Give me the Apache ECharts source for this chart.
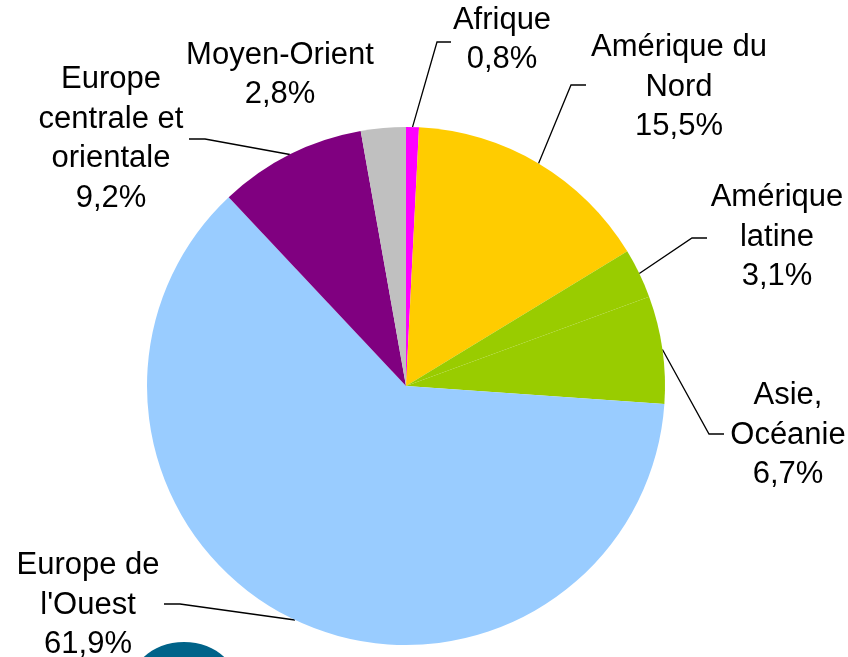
<!DOCTYPE html>
<html>
<head>
<meta charset="utf-8">
<script src="https://cdn.jsdelivr.net/npm/echarts@6/dist/echarts.min.js"></script>
<style>
html,body{margin:0;padding:0;background:#fff;}
#chart{width:848px;height:657px;}
</style>
</head>
<body>
<div id="chart"></div>
<script>
var categories = ["Afrique", "Amérique du Nord", "Amérique latine", "Asie, Océanie", "Europe de l'Ouest", "Europe centrale et orientale", "Moyen-Orient"];
var labelTexts = ["Afrique", "Amérique du\nNord", "Amérique\nlatine", "Asie,\nOcéanie", "Europe de\nl'Ouest", "Europe\ncentrale et\norientale", "Moyen-Orient"];
var values = [0.8, 15.5, 3.1, 6.7, 61.9, 9.2, 2.8];
var colors = ["#ff00ff", "#ffcc00", "#99cc00", "#99cc00", "#99ccff", "#800080", "#c0c0c0"];

// label anchor (centre of text block) and leader-line elbow / end
var labelPos = [
  {x: 502, y: 40, elbow: [437, 42], end: [451, 42]},
  {x: 679, y: 87, elbow: [571, 85], end: [586, 85]},
  {x: 777, y: 237, elbow: [692, 238], end: [707, 238]},
  {x: 788, y: 435, elbow: [709, 434], end: [724, 434]},
  {x: 88, y: 605, elbow: [180, 604], end: [164, 604]},
  {x: 111, y: 139, elbow: [205, 139], end: [189, 139]},
  {x: 280, y: 75, elbow: null, end: null}
];

var data = categories.map(function (c, i) {
  var item = {
    name: c,
    value: values[i],
    itemStyle: {color: colors[i]}
  };
  if (!labelPos[i].elbow) {
    item.labelLine = {show: false};
  }
  return item;
});

var chart = echarts.init(document.getElementById('chart'), null, {renderer: 'canvas'});
chart.setOption({
  animation: false,
  backgroundColor: '#ffffff',
  series: [{
    type: 'pie',
    center: [406, 386],
    radius: 259,
    startAngle: 90,
    clockwise: true,
    data: data,
    itemStyle: {borderWidth: 0},
    label: {
      show: true,
      color: '#000',
      fontFamily: 'Liberation Sans, Arial, sans-serif',
      fontSize: 31,
      lineHeight: 39.5,
      align: 'center',
      overflow: 'none',
      width: 300,
      formatter: function (p) {
        return labelTexts[p.dataIndex] + '\n' + p.value.toFixed(1).replace('.', ',') + '%';
      }
    },
    labelLine: {
      show: true,
      length: 20,
      length2: 15,
      smooth: false,
      lineStyle: {color: '#000', width: 1.3}
    },
    labelLayout: function (params) {
      var lp = labelPos[params.dataIndex];
      var res = {x: lp.x, y: lp.y, align: 'center', verticalAlign: 'middle'};
      if (lp.elbow && params.labelLinePoints) {
        res.labelLinePoints = [params.labelLinePoints[0], lp.elbow, lp.end];
      }
      return res;
    },
    emphasis: {disabled: true}
  }],
  graphic: [{
    type: 'ellipse',
    shape: {cx: 184, cy: 683, rx: 52, ry: 41},
    style: {fill: '#006389'},
    z: 0
  }]
});
</script>
</body>
</html>
